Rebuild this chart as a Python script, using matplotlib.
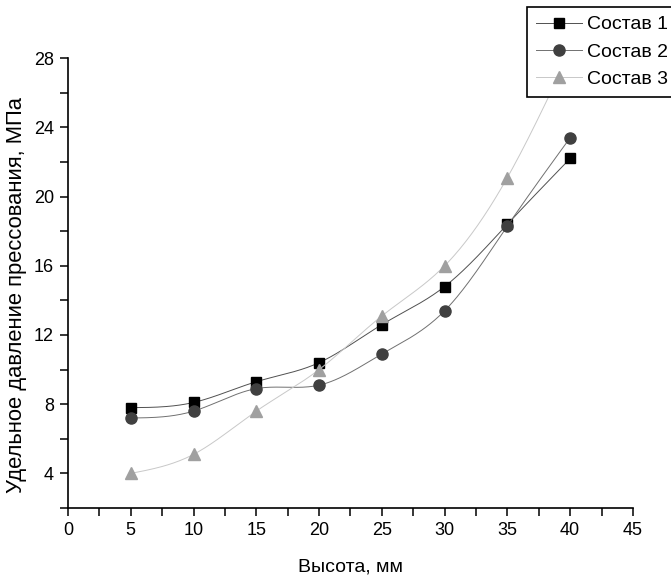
import matplotlib

matplotlib.use("Agg")
import matplotlib.pyplot as plt
import numpy as np
from matplotlib.ticker import MultipleLocator

plt.rcParams["font.family"] = ["Liberation Sans", "DejaVu Sans"]

height_mm = [5, 10, 15, 20, 25, 30, 35, 40]
sostav_1 = [7.8, 8.1, 9.3, 10.4, 12.6, 14.8, 18.4, 22.2]
sostav_2 = [7.2, 7.6, 8.9, 9.1, 10.9, 13.4, 18.3, 23.4]
sostav_3 = [4.0, 5.1, 7.6, 10.0, 13.1, 16.0, 21.1, 28.4]
labels = ["Состав 1", "Состав 2", "Состав 3"]


def natural_spline(x, y, n=300):
    x = np.asarray(x, dtype=float)
    y = np.asarray(y, dtype=float)
    k = len(x)
    h = np.diff(x)
    a = np.zeros((k, k))
    b = np.zeros(k)
    a[0, 0] = a[-1, -1] = 1.0
    for i in range(1, k - 1):
        a[i, i - 1] = h[i - 1]
        a[i, i] = 2 * (h[i - 1] + h[i])
        a[i, i + 1] = h[i]
        b[i] = 6 * ((y[i + 1] - y[i]) / h[i] - (y[i] - y[i - 1]) / h[i - 1])
    m = np.linalg.solve(a, b)
    xs = np.linspace(x[0], x[-1], n)
    idx = np.clip(np.searchsorted(x, xs) - 1, 0, k - 2)
    x0, x1 = x[idx], x[idx + 1]
    hh = x1 - x0
    t0, t1 = x1 - xs, xs - x0
    ys = (m[idx] * t0**3 + m[idx + 1] * t1**3) / (6 * hh) \
        + (y[idx] / hh - m[idx] * hh / 6) * t0 \
        + (y[idx + 1] / hh - m[idx + 1] * hh / 6) * t1
    return xs, ys


fig = plt.figure(figsize=(6.71, 5.79), dpi=100)
ax = fig.add_axes([0.1013, 0.1226, 0.842, 0.777])

styles = [
    dict(line="#505050", mc="#000000", marker="s", ms=7),
    dict(line="#707070", mc="#404040", marker="o", ms=8),
    dict(line="#c8c8c8", mc="#a0a0a0", marker="^", ms=9),
]
handles = []
for values, label, st in zip([sostav_1, sostav_2, sostav_3], labels, styles):
    xs, ys = natural_spline(height_mm, values)
    ax.plot(xs, ys, color=st["line"], lw=0.7)
    ax.plot(height_mm, values, ls="none", marker=st["marker"], ms=st["ms"],
            mfc=st["mc"], mec=st["mc"])
    (h,) = ax.plot([], [], color=st["line"], lw=0.7, marker=st["marker"],
                   ms=st["ms"], mfc=st["mc"], mec=st["mc"])
    handles.append(h)

ax.set_xlim(0, 45)
ax.set_ylim(2, 28)
ax.xaxis.set_major_locator(MultipleLocator(5))
ax.xaxis.set_minor_locator(MultipleLocator(2.5))
ax.yaxis.set_minor_locator(MultipleLocator(2))
ax.set_yticks([4, 8, 12, 16, 20, 24, 28])
ax.spines["top"].set_visible(False)
ax.spines["right"].set_visible(False)
for s in ("left", "bottom"):
    ax.spines[s].set_linewidth(1.2)
ax.tick_params(which="both", direction="out", length=6, width=1.1,
               labelsize=13, pad=4)
ax.set_xlabel("Высота, мм", fontsize=14, labelpad=14)
ax.set_ylabel("Удельное давление прессования, МПа", fontsize=15.8, va="center")
ax.yaxis.set_label_coords(-0.091, 0.473)

leg = fig.legend(handles, labels, loc="upper left",
                 bbox_to_anchor=(527 / 671, 1 - 7 / 579), fontsize=14,
                 frameon=True, fancybox=False, framealpha=1,
                 edgecolor="black", handlelength=2.4, handletextpad=0.25,
                 labelspacing=0.5, borderpad=0.45, borderaxespad=0)
leg.get_frame().set_linewidth(1.2)

fig.savefig("out.png", dpi=100, facecolor="white")
